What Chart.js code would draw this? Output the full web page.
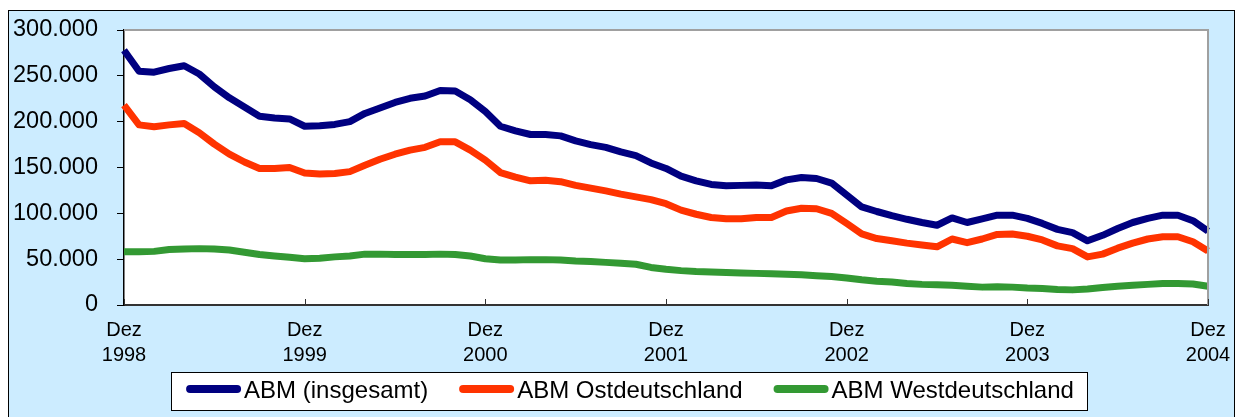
<!DOCTYPE html>
<html>
<head>
<meta charset="utf-8">
<title>ABM</title>
<script src="https://cdn.jsdelivr.net/npm/chart.js@4.4.0/dist/chart.umd.min.js"></script>
<style>
    html, body { margin: 0; padding: 0; background: #ffffff; }
    canvas { display: block; }
</style>
</head>
<body>
<canvas id="abm-chart" width="1236" height="417"></canvas>
<script>
// Monate Dez 1998 bis Dez 2004
const monthNames = ['Jan', 'Feb', 'Mär', 'Apr', 'Mai', 'Jun', 'Jul', 'Aug', 'Sep', 'Okt', 'Nov', 'Dez'];
const years = [1999, 2000, 2001, 2002, 2003, 2004];

const abmTotal = [
    278000,
    255000, 254000, 258000, 261000, 252000, 238000, 226000, 216000, 206000, 204000, 203000, 195000,
    195500, 197000, 200000, 209000, 215000, 221000, 225500, 228000, 234000, 233500, 224000, 211000,
    195000, 190000, 186000, 186000, 184500, 179000, 175000, 172000, 167000, 163000, 155000, 149000,
    140500, 135500, 131500, 130000, 130500, 131000, 130000, 136500, 139000, 138000, 133000, 120000,
    107000, 102000, 97500, 93500, 90000, 87000, 95000, 90000, 94000, 98000, 98000, 94500,
    89000, 82500, 79000, 70000, 76000, 83500, 90000, 94500, 98000, 98000, 92000, 80500
];

const abmOst = [
    218000,
    196500, 194500, 196500, 198000, 188000, 175500, 164500, 156000, 149000, 149000, 150000, 144000,
    143000, 143500, 145500, 152500, 159000, 164500, 169000, 172000, 178000, 178000, 169000, 158000,
    144500, 139500, 135500, 136000, 134500, 130500, 127500, 124500, 121000, 118000, 115000, 110500,
    103500, 99000, 95500, 94000, 94000, 95500, 95500, 102500, 105500, 105000, 100000, 89000,
    77500, 72500, 70000, 67500, 65500, 63500, 72000, 68000, 72000, 77000, 77500, 75000,
    71000, 64500, 61500, 52500, 55500, 62000, 67500, 72000, 74500, 74500, 69000, 59000
];

const abmWest = [
    58000,
    58000, 58500, 60500, 61000, 61500, 61000, 60000, 57500, 55000, 53500, 52000, 50500,
    51000, 52500, 53500, 55500, 55500, 55000, 55000, 55000, 55500, 55000, 53500, 50500,
    49000, 49000, 49500, 49500, 49000, 48000, 47500, 46500, 45500, 44500, 41000, 39000,
    37500, 36500, 36000, 35500, 35000, 34500, 34000, 33500, 33000, 32000, 31000, 29500,
    27500, 26000, 25000, 23500, 22500, 22000, 21500, 20500, 19500, 20000, 19500, 18500,
    18000, 17000, 16500, 17500, 19000, 20500, 21500, 22500, 23500, 23500, 23000, 20500
];

const seriesNames = ['ABM (insgesamt)', 'ABM Ostdeutschland', 'ABM Westdeutschland'];
const seriesColors = ['#000080', '#FF3300', '#339933'];

const labels = ['Dez 1998'];
years.forEach(y => monthNames.forEach(m => labels.push(m + ' ' + y)));

const FONT = '"Liberation Sans", Arial, sans-serif';

function formatThousands(v) {
    return String(v).replace(/\B(?=(\d{3})+(?!\d))/g, '.');
}

const framePlugin = {
    id: 'frame',
    beforeDraw(chart) {
        const { ctx, chartArea: a } = chart;
        ctx.save();
        ctx.fillStyle = '#ffffff';
        ctx.fillRect(0, 0, chart.width, chart.height);
        ctx.fillStyle = '#CCECFF';
        ctx.fillRect(8, 10, chart.width - 9, chart.height - 10);
        ctx.strokeStyle = '#000000';
        ctx.lineWidth = 1;
        ctx.strokeRect(8.5, 10.5, chart.width - 10, chart.height);
        ctx.fillStyle = '#ffffff';
        ctx.fillRect(a.left, a.top, a.right - a.left, a.bottom - a.top);
        ctx.restore();
    },
    afterDraw(chart) {
        const { ctx, chartArea: a } = chart;
        const xScale = chart.scales.x;
        ctx.save();
        // grey top/right edge of the plot area
        ctx.strokeStyle = '#A0A0A0';
        ctx.lineWidth = 2;
        ctx.beginPath();
        ctx.moveTo(a.left, a.top);
        ctx.lineTo(a.right, a.top);
        ctx.lineTo(a.right, a.bottom);
        ctx.stroke();
        // tick marks pointing into the plot at every December
        ctx.strokeStyle = '#333333';
        ctx.lineWidth = 1;
        labels.forEach((l, i) => {
            if (i % 12 !== 0) return;
            const x = Math.round(xScale.getPixelForValue(i)) + 0.5;
            ctx.beginPath();
            ctx.moveTo(x, a.bottom);
            ctx.lineTo(x, a.bottom - 6);
            ctx.stroke();
        });
        ctx.restore();
        drawLegend(chart);
    }
};

// legend in a white box below the axis labels
function drawLegend(chart) {
    const ctx = chart.ctx;
    const sample = 55, textGap = 3, itemGap = 31, centerX = 630, cy = 391;
    ctx.save();
    ctx.font = '24px ' + FONT;
    const items = chart.data.datasets.map(ds => ({
        text: ds.label, color: ds.borderColor, w: ctx.measureText(ds.label).width
    }));
    const total = items.reduce((s, it) => s + sample + textGap + it.w, 0) + itemGap * (items.length - 1);
    let x = centerX - total / 2;
    const boxLeft = Math.round(x - 15), boxRight = Math.round(x + total + 13);
    ctx.fillStyle = '#ffffff';
    ctx.fillRect(boxLeft, 372, boxRight - boxLeft, 38);
    ctx.strokeStyle = '#000000';
    ctx.lineWidth = 1;
    ctx.strokeRect(boxLeft + 0.5, 372.5, boxRight - boxLeft, 38);
    items.forEach(it => {
        ctx.strokeStyle = it.color;
        ctx.lineWidth = 8;
        ctx.lineCap = 'round';
        ctx.beginPath();
        ctx.moveTo(x + 4, cy - 2);
        ctx.lineTo(x + sample - 4, cy - 2);
        ctx.stroke();
        ctx.fillStyle = '#000000';
        ctx.textBaseline = 'middle';
        ctx.textAlign = 'left';
        ctx.fillText(it.text, x + sample + textGap, cy);
        x += sample + textGap + it.w + itemGap;
    });
    ctx.restore();
}

const ctx = document.getElementById('abm-chart').getContext('2d');
const chart = new Chart(ctx, {
    type: 'line',
    data: {
        labels: labels,
        datasets: seriesNames.map((name, i) => ({
            label: name,
            data: [abmTotal, abmOst, abmWest][i],
            borderColor: seriesColors[i],
            backgroundColor: seriesColors[i]
        }))
    },
    options: {
        responsive: false,
        animation: false,
        devicePixelRatio: 1,
        layout: { padding: { left: 8, right: 28, top: 30, bottom: 0 } },
        elements: {
            line: { borderWidth: 7, tension: 0, borderJoinStyle: 'round', borderCapStyle: 'butt', fill: false },
            point: { radius: 0, hoverRadius: 0 }
        },
        plugins: {
            legend: { display: false },
            tooltip: { enabled: false }
        },
        scales: {
            x: {
                offset: false,
                grid: { display: false, drawTicks: false },
                border: { display: true, color: '#333333', width: 2 },
                ticks: {
                    autoSkip: false,
                    maxRotation: 0,
                    minRotation: 0,
                    padding: 13,
                    color: '#000000',
                    font: { family: FONT, size: 20, lineHeight: 1.25 },
                    callback: function (value, index) {
                        if (index % 12 !== 0) return null;
                        return this.getLabelForValue(value).split(' ');
                    }
                },
                afterFit(scale) {
                    scale.height = 112;
                    scale.paddingLeft = 0;
                    scale.paddingRight = 0;
                }
            },
            y: {
                min: 0,
                max: 300000,
                grid: { drawOnChartArea: false, drawTicks: true, tickLength: 7, color: '#000000' },
                border: { display: true, color: '#000000', width: 1.5 },
                ticks: {
                    stepSize: 50000,
                    padding: 19,
                    color: '#000000',
                    font: { family: FONT, size: 23.5 },
                    callback: v => formatThousands(v)
                },
                afterFit(scale) {
                    scale.width = 116;
                    scale.paddingTop = 0;
                    scale.paddingBottom = 0;
                }
            }
        }
    },
    plugins: [framePlugin]
});
</script>
</body>
</html>
